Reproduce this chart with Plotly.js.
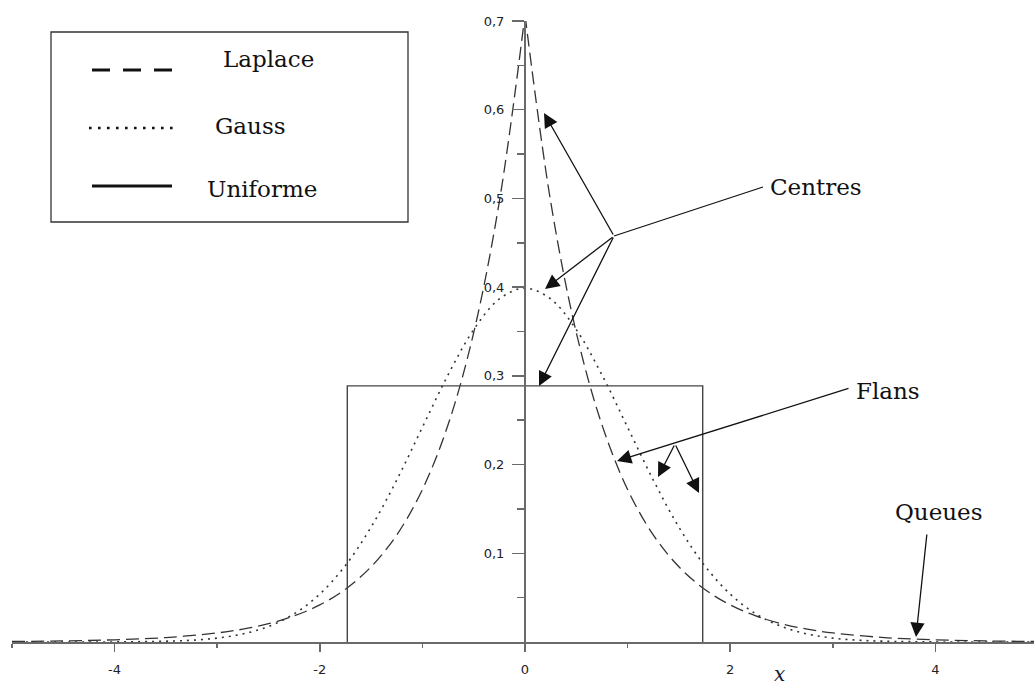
<!DOCTYPE html>
<html>
<head>
<meta charset="utf-8">
<script src="https://cdn.plot.ly/plotly-3.0.1.min.js"></script>
<style>
  html, body { margin: 0; padding: 0; background: #ffffff; }
  #chart { width: 1034px; height: 688px; }
</style>
</head>
<body>
<div id="chart"></div>
<script>
// Densités de Laplace, de Gauss et uniforme (variance 1)
const laplaceX = [-5, -4.5, -4, -3.5, -3, -2.75, -2.5, -2.25, -2, -1.75, -1.5, -1.25, -1, -0.75, -0.5, -0.25, 0,
                  0.25, 0.5, 0.75, 1, 1.25, 1.5, 1.75, 2, 2.25, 2.5, 2.75, 3, 3.5, 4, 4.5, 5];
const laplaceY = [0.0006, 0.0012, 0.0025, 0.0050, 0.0102, 0.0145, 0.0206, 0.0294, 0.0418, 0.0595, 0.0848, 0.1207, 0.1719, 0.2448, 0.3487, 0.4965, 0.7071,
                  0.4965, 0.3487, 0.2448, 0.1719, 0.1207, 0.0848, 0.0595, 0.0418, 0.0294, 0.0206, 0.0145, 0.0102, 0.0050, 0.0025, 0.0012, 0.0006];

const gaussX = [-5, -4, -3.5, -3.25, -3, -2.75, -2.5, -2.25, -2, -1.75, -1.5, -1.25, -1, -0.75, -0.5, -0.25, 0,
                0.25, 0.5, 0.75, 1, 1.25, 1.5, 1.75, 2, 2.25, 2.5, 2.75, 3, 3.25, 3.5, 4, 5];
const gaussY = [0.0000, 0.0001, 0.0009, 0.0020, 0.0044, 0.0091, 0.0175, 0.0317, 0.0540, 0.0863, 0.1295, 0.1826, 0.2420, 0.3011, 0.3521, 0.3867, 0.3989,
                0.3867, 0.3521, 0.3011, 0.2420, 0.1826, 0.1295, 0.0863, 0.0540, 0.0317, 0.0175, 0.0091, 0.0044, 0.0020, 0.0009, 0.0001, 0.0000];

const uniformX = [-1.732, -1.732, 1.732, 1.732];
const uniformY = [0, 0.2887, 0.2887, 0];

const xTickVals = [-4, -2, 0, 2, 4];
const xTickText = ['-4', '-2', '0', '2', '4'];
const yTickVals = [0.1, 0.2, 0.3, 0.4, 0.5, 0.6, 0.7];
const yTickText = ['0,1', '0,2', '0,3', '0,4', '0,5', '0,6', '0,7'];

const seriesNames = ['Laplace', 'Gauss', 'Uniforme'];
const markerLabels = ['Centres', 'Flans', 'Queues'];

// Mise en page : zone de tracé et conversions pixel -> repère
const W = 1034, H = 688;
const ML = 12, MR = 0, MT = 21, MB = 46;
const plotW = W - ML - MR, plotH = H - MT - MB;
const pxPerUnit = 102.6;
const xRange = [-5, -5 + plotW / pxPerUnit];
const yRange = [0, 0.7];

const dx = p => xRange[0] + (p - ML) / pxPerUnit;
const dy = p => (MT + plotH - p) / plotH * yRange[1];
const qx = p => (p - ML) / plotW;
const qy = p => (MT + plotH - p) / plotH;

const curveColor = '#333333';
const axisColor = '#6a6a6a';
const serif = 'DejaVu Serif, serif';

// La courbe de Laplace est tracée en deux moitiés pour garder le pic pointu
const peak = laplaceX.indexOf(0);
const traces = [
  { x: laplaceX.slice(0, peak + 1), y: laplaceY.slice(0, peak + 1), name: seriesNames[0],
    mode: 'lines', line: { color: curveColor, width: 1.3, dash: '13px,6px', shape: 'spline' } },
  { x: laplaceX.slice(peak), y: laplaceY.slice(peak), name: seriesNames[0],
    mode: 'lines', line: { color: curveColor, width: 1.3, dash: '13px,6px', shape: 'spline' } },
  { x: gaussX, y: gaussY, name: seriesNames[1],
    mode: 'lines', line: { color: curveColor, width: 1.6, dash: '2px,5px', shape: 'spline' } },
  { x: uniformX, y: uniformY, name: seriesNames[2],
    mode: 'lines', line: { color: '#444444', width: 1.4 } }
];

// Cadre de légende
const shapes = [
  { type: 'rect', xref: 'paper', yref: 'paper', x0: qx(51), x1: qx(408), y0: qy(32), y1: qy(222),
    line: { color: '#333333', width: 1.3 }, fillcolor: 'rgba(0,0,0,0)' },
  { type: 'line', xref: 'paper', yref: 'paper', x0: qx(92), x1: qx(176), y0: qy(70), y1: qy(70),
    line: { color: '#111111', width: 3, dash: '18px,13px' } },
  { type: 'line', xref: 'paper', yref: 'paper', x0: qx(89), x1: qx(178), y0: qy(128), y1: qy(128),
    line: { color: '#111111', width: 2.6, dash: '2.6px,6.4px' } },
  { type: 'line', xref: 'paper', yref: 'paper', x0: qx(92), x1: qx(172), y0: qy(186), y1: qy(186),
    line: { color: '#111111', width: 3 } },
  // trait de rappel vers l'étiquette « Centres »
  { type: 'line', xref: 'x', yref: 'y', x0: dx(614), y0: dy(236), x1: dx(763), y1: dy(187),
    line: { color: '#111111', width: 1.3 } }
];

const arrowStyle = { xref: 'x', yref: 'y', axref: 'x', ayref: 'y', text: '', showarrow: true,
  arrowhead: 2, arrowsize: 2.2, arrowwidth: 1.3, arrowcolor: '#111111', standoff: 0, startstandoff: 0 };
const arrow = (tipX, tipY, tailX, tailY) =>
  Object.assign({}, arrowStyle, { x: dx(tipX), y: dy(tipY), ax: dx(tailX), ay: dy(tailY) });

const label = (text, left, mid, extra) => Object.assign({
  text: text, xref: 'paper', yref: 'paper', x: qx(left), y: qy(mid),
  xanchor: 'left', yanchor: 'middle', showarrow: false,
  font: { family: serif, size: 23, color: '#111111' }
}, extra || {});

const annotations = [
  label(seriesNames[0], 221, 59),
  label(seriesNames[1], 213, 126),
  label(seriesNames[2], 205, 189),
  label(markerLabels[0], 768, 187),
  label(markerLabels[1], 854, 391),
  label(markerLabels[2], 893, 512),
  // Centres
  arrow(544, 113, 614, 236),
  arrow(545, 289, 614, 236),
  arrow(539, 386, 614, 236),
  // Flans
  arrow(617, 461, 850, 388),
  arrow(658, 477, 675, 444),
  arrow(699, 493, 675, 444),
  // Queues
  arrow(916, 637, 927, 533),
  // titre de l'axe des abscisses
  { text: 'x', xref: 'paper', yref: 'paper', x: qx(779), y: qy(688), xanchor: 'center', yanchor: 'bottom',
    showarrow: false, font: { family: serif, size: 20, style: 'italic', color: '#1a1a33' } }
];

const tickFont = { family: 'DejaVu Sans, sans-serif', size: 13, color: '#222222' };

const layout = {
  width: W, height: H,
  margin: { l: ML, r: MR, t: MT, b: MB, pad: 0 },
  paper_bgcolor: '#ffffff', plot_bgcolor: '#ffffff',
  showlegend: false,
  xaxis: {
    range: xRange, showgrid: false, zeroline: false,
    showline: true, linecolor: axisColor, linewidth: 2,
    ticks: 'outside', ticklen: 8, tickwidth: 1.5, tickcolor: axisColor,
    tickvals: xTickVals, ticktext: xTickText, tickfont: tickFont, ticklabelstandoff: 6,
    minor: { tickvals: [-5, -3, -1, 1, 3], ticks: 'outside', ticklen: 4, tickwidth: 1.5, tickcolor: axisColor, showgrid: false },
    fixedrange: true
  },
  yaxis: {
    range: yRange, showgrid: false, zeroline: false,
    anchor: 'free', position: (0 - xRange[0]) / (xRange[1] - xRange[0]),
    showline: true, linecolor: axisColor, linewidth: 2,
    ticks: 'outside', ticklen: 12, tickwidth: 1.5, tickcolor: axisColor,
    tickvals: yTickVals, ticktext: yTickText, tickfont: tickFont, ticklabelstandoff: 5,
    minor: { tickvals: [0.05, 0.15, 0.25, 0.35, 0.45, 0.55, 0.65], ticks: 'outside', ticklen: 7, tickwidth: 1.5, tickcolor: axisColor, showgrid: false },
    fixedrange: true
  },
  shapes: shapes,
  annotations: annotations
};

Plotly.newPlot('chart', traces, layout, { staticPlot: true, displayModeBar: false });
</script>
</body>
</html>
